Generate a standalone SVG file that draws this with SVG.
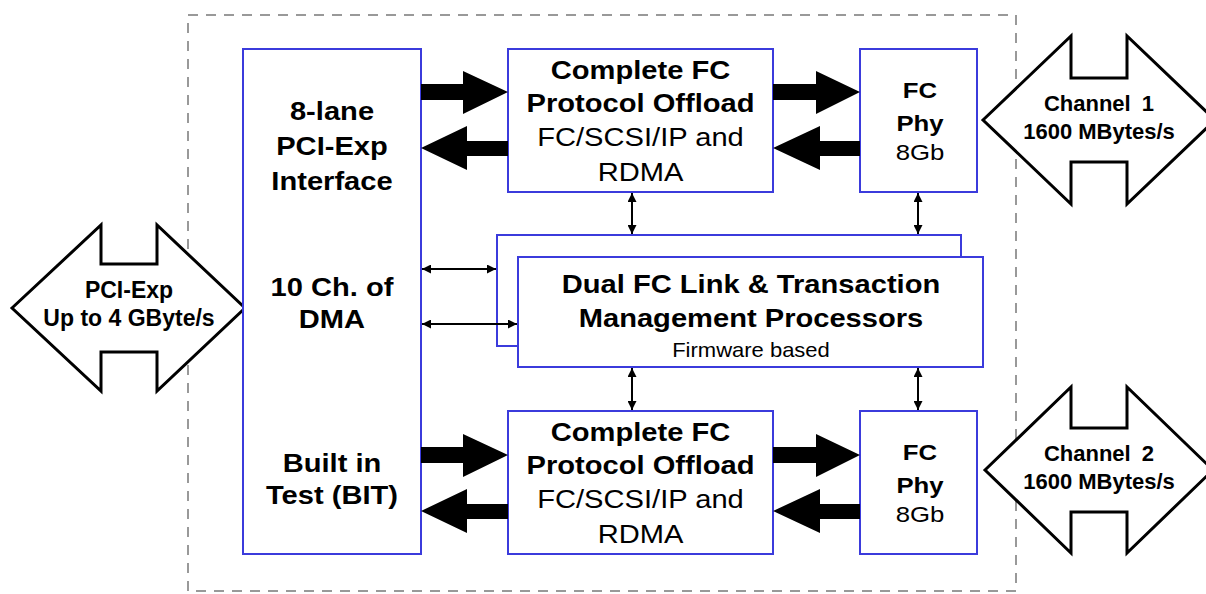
<svg xmlns="http://www.w3.org/2000/svg" width="1206" height="594" viewBox="0 0 1206 594">
<style>
.bg{fill:#ffffff}
.boundary{fill:none;stroke:#999999;stroke-width:2;stroke-dasharray:10 8}
.box{fill:#ffffff;stroke:#3b3bdc;stroke-width:2}
.bus{fill:#ffffff;stroke:#000000;stroke-width:3;stroke-linejoin:miter}
.fat{fill:#000000;stroke:none}
.thin{fill:none;stroke:#000000;stroke-width:2}
text{font-family:"Liberation Sans",Arial,Helvetica,sans-serif;fill:#000000;text-anchor:middle}
.b{font-weight:bold;font-size:26px}
.r{font-weight:normal;font-size:26px}
.bs{font-weight:bold;font-size:23px}
.rs{font-weight:normal;font-size:23px}
.fw{font-weight:normal;font-size:20px}
.lbl{font-weight:bold;font-size:22px}
.pl{font-weight:bold;font-size:23px}
</style>
<defs>
<marker id="ah" viewBox="0 0 10 10" refX="10" refY="5" markerWidth="10" markerHeight="9" markerUnits="userSpaceOnUse" orient="auto-start-reverse">
<path d="M0,0 L10,5 L0,10 z" fill="#000000"/>
</marker>
</defs>
<rect class="bg" x="0" y="0" width="1206" height="594"/>

<g id="boundary">
<rect class="boundary" x="188" y="15" width="828" height="576"/>
</g>

<g id="pcie-host">
<polygon class="bus" points="12,308 101,225 101,264 157,264 157,225 245,308 157,391 157,352 101,352 101,391"/>
<text class="pl" x="129" y="298">PCI-Exp</text>
<text class="pl" x="129" y="326">Up to 4 GByte/s</text>
</g>

<g id="pcie-interface">
<rect class="box" x="243" y="49" width="178" height="505"/>
<text class="b" transform="translate(332 120) scale(1.12 1)">8-lane</text>
<text class="b" transform="translate(332 155) scale(1.12 1)">PCI-Exp</text>
<text class="b" transform="translate(332 190) scale(1.12 1)">Interface</text>
<text class="b" transform="translate(332 296) scale(1.12 1)">10 Ch. of</text>
<text class="b" transform="translate(332 328) scale(1.12 1)">DMA</text>
<text class="b" transform="translate(332 472) scale(1.12 1)">Built in</text>
<text class="b" transform="translate(332 504) scale(1.12 1)">Test (BIT)</text>
</g>

<g id="offload-1">
<rect class="box" x="508" y="49" width="265" height="143"/>
<text class="b" transform="translate(640.5 79) scale(1.12 1)">Complete FC</text>
<text class="b" transform="translate(640.5 112) scale(1.12 1)">Protocol Offload</text>
<text class="r" transform="translate(640.5 146) scale(1.12 1)">FC/SCSI/IP and</text>
<text class="r" transform="translate(640.5 181) scale(1.12 1)">RDMA</text>
</g>

<g id="phy-1">
<rect class="box" x="860" y="49" width="117" height="143"/>
<text class="bs" transform="translate(920 98) scale(1.12 1)">FC</text>
<text class="bs" transform="translate(920 131) scale(1.12 1)">Phy</text>
<text class="rs" transform="translate(920 160) scale(1.12 1)">8Gb</text>
</g>

<g id="offload-2">
<rect class="box" x="508" y="411" width="265" height="143"/>
<text class="b" transform="translate(640.5 441) scale(1.12 1)">Complete FC</text>
<text class="b" transform="translate(640.5 474) scale(1.12 1)">Protocol Offload</text>
<text class="r" transform="translate(640.5 508) scale(1.12 1)">FC/SCSI/IP and</text>
<text class="r" transform="translate(640.5 543) scale(1.12 1)">RDMA</text>
</g>

<g id="phy-2">
<rect class="box" x="860" y="411" width="117" height="143"/>
<text class="bs" transform="translate(920 460) scale(1.12 1)">FC</text>
<text class="bs" transform="translate(920 493) scale(1.12 1)">Phy</text>
<text class="rs" transform="translate(920 522) scale(1.12 1)">8Gb</text>
</g>

<g id="link-processors">
<rect class="box" x="497" y="235" width="464" height="111"/>
<rect class="box" x="518" y="257" width="465" height="110"/>
<text class="b" transform="translate(751 293) scale(1.12 1)">Dual FC Link &amp; Transaction</text>
<text class="b" transform="translate(751 327) scale(1.12 1)">Management Processors</text>
<text class="fw" transform="translate(751 357) scale(1.1 1)">Firmware based</text>
</g>

<g id="channel-1">
<polygon class="bus" points="983,120 1071,36 1071,78 1127,78 1127,36 1215,120 1127,204 1127,162 1071,162 1071,204"/>
<text class="lbl" x="1099" y="111" word-spacing="5">Channel 1</text>
<text class="lbl" x="1099" y="139">1600 MBytes/s</text>
</g>

<g id="channel-2">
<polygon class="bus" points="985,470 1071,387 1071,428 1127,428 1127,387 1213,470 1127,553 1127,512 1071,512 1071,553"/>
<text class="lbl" x="1099" y="461" word-spacing="5">Channel 2</text>
<text class="lbl" x="1099" y="489">1600 MBytes/s</text>
</g>

<g id="connectors">
<polygon class="fat" points="421,84 463,84 463,71 508,92 463,114 463,100 421,100"/>
<polygon class="fat" points="508,141 467,141 467,126 421,148 467,170 467,156 508,156"/>
<polygon class="fat" points="773,84 816,84 816,71 860,92 816,114 816,100 773,100"/>
<polygon class="fat" points="860,141 820,141 820,126 773,148 820,170 820,156 860,156"/>
<g transform="translate(0 363)">
<polygon class="fat" points="421,84 463,84 463,71 508,92 463,114 463,100 421,100"/>
<polygon class="fat" points="508,141 467,141 467,126 421,148 467,170 467,156 508,156"/>
<polygon class="fat" points="773,84 816,84 816,71 860,92 816,114 816,100 773,100"/>
<polygon class="fat" points="860,141 820,141 820,126 773,148 820,170 820,156 860,156"/>
</g>
<line class="thin" x1="632" y1="193" x2="632" y2="234" marker-start="url(#ah)" marker-end="url(#ah)"/>
<line class="thin" x1="918" y1="193" x2="918" y2="234" marker-start="url(#ah)" marker-end="url(#ah)"/>
<line class="thin" x1="632" y1="368" x2="632" y2="410" marker-start="url(#ah)" marker-end="url(#ah)"/>
<line class="thin" x1="918" y1="368" x2="918" y2="410" marker-start="url(#ah)" marker-end="url(#ah)"/>
<line class="thin" x1="422" y1="269" x2="496" y2="269" marker-start="url(#ah)" marker-end="url(#ah)"/>
<line class="thin" x1="422" y1="324" x2="517" y2="324" marker-start="url(#ah)" marker-end="url(#ah)"/>
</g>
</svg>
